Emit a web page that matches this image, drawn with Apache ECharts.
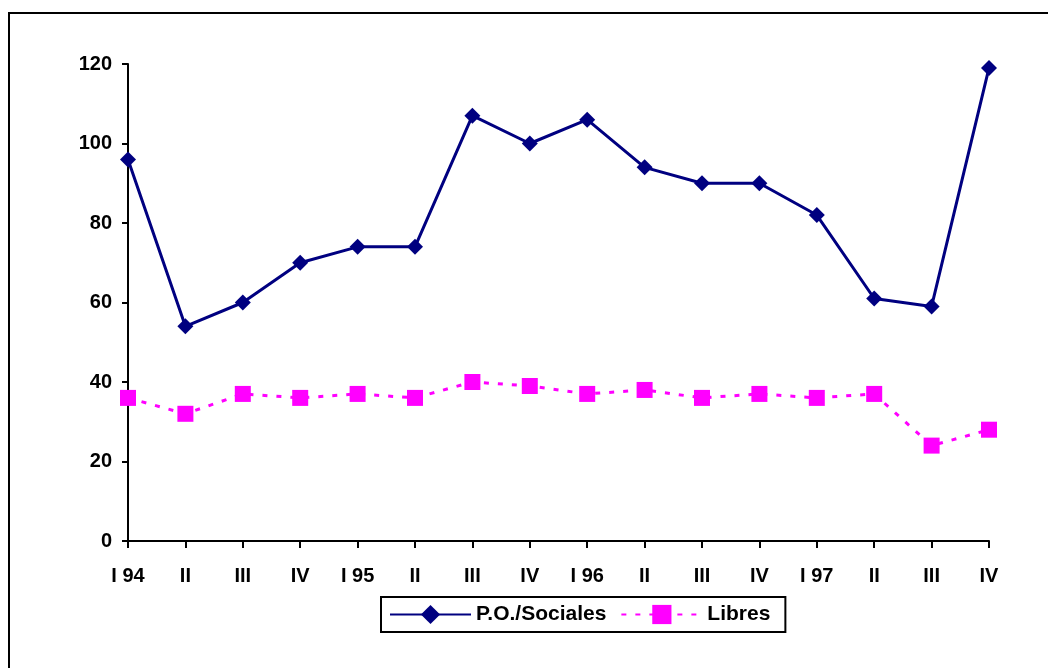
<!DOCTYPE html>
<html>
<head>
<meta charset="utf-8">
<script src="https://cdn.jsdelivr.net/npm/echarts@6/dist/echarts.min.js"></script>
<style>
  html, body { margin: 0; padding: 0; background: #fff; }
  #chart { width: 1048px; height: 668px; }
</style>
</head>
<body>
<div id="chart"></div>
<script>
// Quarterly series, 1994-1997
const categories = ['I 94', 'II', 'III', 'IV', 'I 95', 'II', 'III', 'IV', 'I 96', 'II', 'III', 'IV', 'I 97', 'II', 'III', 'IV'];
const sociales = [96, 54, 60, 70, 74, 74, 107, 100, 106, 94, 90, 90, 82, 61, 59, 119];
const libres = [36, 32, 37, 36, 37, 36, 40, 39, 37, 38, 36, 37, 36, 37, 24, 28];
const yTicks = { min: 0, max: 120, step: 20 };

const FONT = '"Liberation Sans", Arial, sans-serif';
const chart = echarts.init(document.getElementById('chart'), null, { renderer: 'canvas' });

chart.setOption({
  backgroundColor: '#ffffff',
  animation: false,
  graphic: [{
    type: 'rect',
    shape: { x: 9, y: 13, width: 1100, height: 700 },
    style: { fill: 'none', stroke: '#000', lineWidth: 2 },
    silent: true
  }],
  grid: { left: 128, right: 59, top: 64, bottom: 127 },
  xAxis: {
    type: 'category',
    data: categories,
    boundaryGap: false,
    axisLine: { lineStyle: { color: '#000', width: 2 } },
    axisTick: { show: true, length: 7, lineStyle: { color: '#000', width: 2 }, interval: 0 },
    axisLabel: { interval: 0, color: '#000', fontFamily: FONT, fontWeight: 'bold', fontSize: 20, margin: 25 },
    splitLine: { show: false }
  },
  yAxis: {
    type: 'value',
    min: yTicks.min,
    max: yTicks.max,
    interval: yTicks.step,
    axisLine: { show: true, lineStyle: { color: '#000', width: 2 } },
    axisTick: { show: true, length: 6, lineStyle: { color: '#000', width: 2 } },
    axisLabel: { color: '#000', fontFamily: FONT, fontWeight: 'bold', fontSize: 20, margin: 16, padding: [5, 0, 0, 0] },
    splitLine: { show: false }
  },
  legend: {
    left: 381,
    top: 597,
    padding: [7, 15, 7, 8],
    borderColor: '#000',
    borderWidth: 2,
    itemWidth: 81,
    itemHeight: 24,
    itemGap: 14,
    textStyle: { color: '#000', fontFamily: FONT, fontWeight: 'bold', fontSize: 21 },
    data: ['P.O./Sociales', 'Libres']
  },
  series: [
    {
      name: 'P.O./Sociales',
      type: 'line',
      data: sociales,
      symbol: 'diamond',
      symbolSize: 16,
      lineStyle: { color: '#000080', width: 3 },
      itemStyle: { color: '#000080' }
    },
    {
      name: 'Libres',
      type: 'line',
      data: libres,
      symbol: 'rect',
      symbolSize: 16,
      lineStyle: { color: '#FF00FF', width: 3, type: [5, 9] },
      itemStyle: { color: '#FF00FF' }
    }
  ]
});
</script>
</body>
</html>
